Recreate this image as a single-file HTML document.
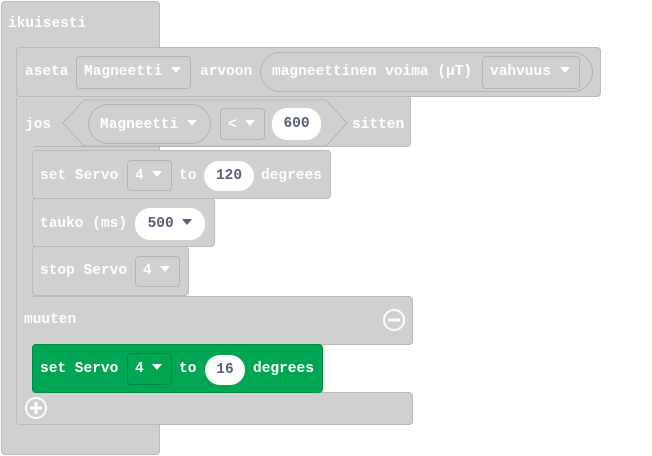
<!DOCTYPE html>
<html><head><meta charset="utf-8"><style>
body{margin:0;width:652px;height:456px;background:#fff;position:relative;overflow:hidden}
div{position:absolute;box-sizing:border-box}
.b{background:#d0d0d0;border:1px solid #b9b9b9;border-radius:4px}
.n{background:#d0d0d0}
.g{background:#00a651;border:1px solid #008f45;border-radius:4px}
.t{color:#fff;font:bold 14.5px "Liberation Mono",monospace;white-space:pre;line-height:16px}
.d{border:1px solid #b3b3b3;border-radius:4px}
.dg{border:1px solid #008a42;border-radius:4px}
.o{background:#fff;border-radius:15px;color:#575e75;font:bold 14.5px "Liberation Mono",monospace;text-align:center;line-height:16px;white-space:pre}
.r{border:1px solid #b3b3b3;border-radius:20px}
.a{display:inline-block;width:0;height:0;border-left:5px solid transparent;border-right:5px solid transparent;border-top:6px solid currentColor;vertical-align:2px}
</style></head><body>
<!-- ikuisesti -->
<div class="b" style="left:1px;top:1px;width:159px;height:454px"></div>
<div class="t" style="left:8px;top:16px">ikuisesti</div>
<!-- aseta -->
<div class="b" style="left:16px;top:47px;width:585px;height:50px"></div>
<div class="t" style="left:25px;top:64px">aseta</div>
<div class="d" style="left:76px;top:56px;width:115px;height:33px"></div>
<div class="t" style="left:84px;top:64px">Magneetti <span class="a"></span></div>
<div class="t" style="left:200px;top:64px">arvoon</div>
<div class="r" style="left:260px;top:52px;width:333px;height:40px"></div>
<div class="t" style="left:272px;top:64px">magneettinen voima (µT)</div>
<div class="d" style="left:482px;top:56px;width:98px;height:33px"></div>
<div class="t" style="left:490px;top:64px">vahvuus <span class="a"></span></div>
<!-- jos -->
<div class="b" style="left:16px;top:96px;width:395px;height:51px"></div>
<div class="b" style="left:16px;top:296px;width:397px;height:49px"></div>
<div class="b" style="left:16px;top:392px;width:397px;height:33px"></div>
<div class="b" style="left:16px;top:96px;width:17px;height:329px;border-right:none"></div>
<div class="n" style="left:17px;top:97px;width:30px;height:49px"></div>
<div class="n" style="left:17px;top:297px;width:30px;height:47px"></div>
<div class="n" style="left:17px;top:393px;width:30px;height:31px"></div>
<div class="t" style="left:25px;top:117px">jos</div>
<svg style="position:absolute;left:62px;top:99px" width="286" height="48"><polygon points="1,24 22,1 264,1 285,24 264,47 22,47" fill="#d0d0d0" stroke="#b3b3b3"/></svg>
<div class="r" style="left:88px;top:104px;width:123px;height:40px"></div>
<div class="t" style="left:100px;top:117px">Magneetti <span class="a"></span></div>
<div class="d" style="left:220px;top:108px;width:45px;height:32px"></div>
<div class="t" style="left:228px;top:117px">&lt; <span class="a"></span></div>
<div class="o" style="left:272px;top:108px;width:49px;height:32px;padding-top:8px">600</div>
<div class="t" style="left:352px;top:117px">sitten</div>
<!-- set servo -->
<div class="b" style="left:32px;top:150px;width:299px;height:49px"></div>
<div class="t" style="left:40px;top:168px">set Servo</div>
<div class="d" style="left:127px;top:160px;width:45px;height:31px"></div>
<div class="t" style="left:135px;top:168px">4 <span class="a"></span></div>
<div class="t" style="left:179px;top:168px">to</div>
<div class="o" style="left:204px;top:161px;width:50px;height:30px;padding-top:7px">120</div>
<div class="t" style="left:261px;top:168px">degrees</div>
<!-- tauko -->
<div class="b" style="left:32px;top:198px;width:183px;height:49px"></div>
<div class="t" style="left:40px;top:216px">tauko (ms)</div>
<div class="o" style="left:135px;top:208px;width:70px;height:32px;padding-top:8px">500 <span class="a"></span></div>
<!-- stop -->
<div class="b" style="left:32px;top:246px;width:157px;height:50px"></div>
<div class="t" style="left:40px;top:263px">stop Servo</div>
<div class="d" style="left:135px;top:256px;width:45px;height:31px"></div>
<div class="t" style="left:143px;top:263px">4 <span class="a"></span></div>
<!-- muuten -->
<div class="t" style="left:24px;top:312px">muuten</div>
<svg style="position:absolute;left:382px;top:308px" width="24" height="24"><circle cx="12" cy="12" r="10" fill="none" stroke="#fff" stroke-width="2"/><rect x="6" y="10.5" width="12" height="3" fill="#fff"/></svg>
<!-- green -->
<div class="g" style="left:32px;top:344px;width:291px;height:49px"></div>
<div class="t" style="left:40px;top:361px">set Servo</div>
<div class="dg" style="left:127px;top:353px;width:45px;height:32px"></div>
<div class="t" style="left:135px;top:361px">4 <span class="a"></span></div>
<div class="t" style="left:179px;top:361px">to</div>
<div class="o" style="left:205px;top:355px;width:40px;height:30px;padding-top:7px">16</div>
<div class="t" style="left:253px;top:361px">degrees</div>
<svg style="position:absolute;left:24px;top:396px" width="24" height="24"><circle cx="12" cy="12" r="10" fill="none" stroke="#fff" stroke-width="2"/><rect x="6" y="10.5" width="12" height="3" fill="#fff"/><rect x="10.5" y="6" width="3" height="12" fill="#fff"/></svg>
</body></html>
